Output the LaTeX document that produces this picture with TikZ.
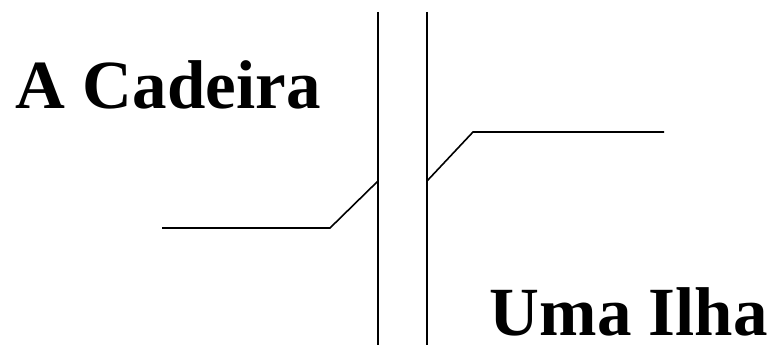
\documentclass[tikz,border=0pt]{standalone}
\usepackage{fontspec}
\setmainfont{Liberation Serif}
\usepackage{tikz}
\usetikzlibrary{positioning,calc}

\begin{document}
\begin{tikzpicture}[
    x=1pt, y=-1pt,
    line width=1.6pt,
    title node/.style={anchor=base west, inner sep=0pt, font=\fontsize{69}{69}\selectfont\bfseries},
    wall line/.style={draw=black},
    path line/.style={draw=black, line join=miter}
]
  \useasboundingbox (0,0) rectangle (776,345);

  % the two walls
  \coordinate (wl top) at (378,12);
  \coordinate (wl bot) at (378,345);
  \coordinate (wr top) at (427,12);
  \coordinate (wr bot) at (427,345);
  \draw[wall line] (wl top) -- (wl bot);
  \draw[wall line] (wr top) -- (wr bot);

  % the way through
  \coordinate (in start) at (162,228);
  \coordinate (in bend) at (330,228);
  \coordinate (in end) at (378,181);
  \coordinate (out start) at (427,181);
  \coordinate (out bend) at (473,132);
  \coordinate (out end) at (664,132);
  \draw[path line] (in start) -- (in bend) -- (in end);
  \draw[path line] (out start) -- (out bend) -- (out end);

  \node[title node] (cadeira) at (15,108) {A Cadeira};
  \node[title node] (ilha) at (489,335) {Uma Ilha};
\end{tikzpicture}
\end{document}
